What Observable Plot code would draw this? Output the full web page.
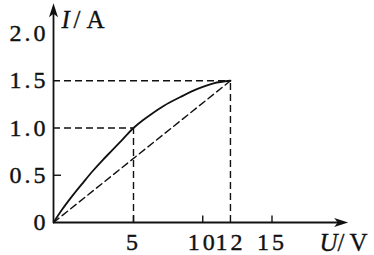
<!DOCTYPE html>
<html><head><meta charset="utf-8">
<script src="https://cdn.jsdelivr.net/npm/d3@7"></script>
<script src="https://cdn.jsdelivr.net/npm/@observablehq/plot@0.6"></script>
<style>
html,body{margin:0;padding:0;background:#fff;}
g[aria-label="y-axis tick label"] text, g[aria-label="x-axis tick label"] text {letter-spacing: 3px; stroke: #111; stroke-width: 0.4px;}
g[aria-label="text"] text {stroke: #111; stroke-width: 0.3px;}
</style>
</head><body><div id="chart"></div>
<script>
// Solid curve (U in V, I in A)
const curveU = [0, 0.56, 1.19, 1.88, 2.44, 3.06, 3.69, 4.31, 5, 5.65, 6.23, 7.17, 8.39, 9.62, 10.78, 12];
const curveI = [0, 0.142, 0.284, 0.428, 0.542, 0.658, 0.768, 0.878, 1.0, 1.079, 1.141, 1.233, 1.328, 1.414, 1.473, 1.5];
// Marked points with dashed guide lines
const markU = [5, 12];
const markI = [1.0, 1.5];
// Ticks
const xTicks = [5, 10, 12, 15];
const yTicks = [0, 0.5, 1.0, 1.5, 2.0];
const yTickLabels = ["0", "0.5", "1.0", "1.5", "2.0"];
const xTickMarks = [5, 10, 15];
const yTickMarks = [0.5];

const curve = curveU.map((u, k) => ({u, i: curveI[k]}));
const marks = markU.map((u, k) => ({u, i: markI[k]}));
const diag = [{u: 0, i: 0}, marks[marks.length - 1]];

const xEnd = 20.5, yEnd = 2.32;
const arrowHead = {draw(ctx) {
  ctx.moveTo(0, 0); ctx.lineTo(-4.5, 14); ctx.lineTo(0, 10.5); ctx.lineTo(4.5, 14); ctx.closePath();
}};
const serif = "'Liberation Serif', 'Times New Roman', serif";
const ink = "#111";
const dash = "7,4";
const titleFont = 25;

const chart = Plot.plot({
  width: 374, height: 255,
  marginLeft: 53, marginBottom: 33, marginTop: 0, marginRight: 0,
  style: {fontFamily: serif, color: ink, background: "#fff"},
  x: {type: "linear", domain: [0, 5, 15], range: [53, 133, 271.5]},
  y: {type: "linear", domain: [0, 2], range: [222, 33]},
  marks: [
    Plot.ruleY(marks, {y: "i", x1: 0, x2: "u", stroke: ink, strokeWidth: 1.4, strokeDasharray: dash}),
    Plot.ruleX(marks, {x: "u", y1: 0, y2: "i", stroke: ink, strokeWidth: 1.4, strokeDasharray: dash}),
    Plot.line(diag, {x: "u", y: "i", stroke: ink, strokeWidth: 1.4, strokeDasharray: dash}),
    Plot.line(curve, {x: "u", y: "i", curve: "monotone-x", stroke: ink, strokeWidth: 1.8}),
    Plot.ruleX(xTickMarks, {x: d => d, y1: 0, y2: 0.07, stroke: ink, strokeWidth: 1.4}),
    Plot.ruleY(yTickMarks, {y: d => d, x1: 0, x2: 0.5, stroke: ink, strokeWidth: 1.4}),
    Plot.ruleX([0], {y1: 0, y2: yEnd - 0.06, stroke: ink, strokeWidth: 1.8}),
    Plot.ruleY([0], {x1: 0, x2: xEnd - 0.5, stroke: ink, strokeWidth: 1.8}),
    Plot.dot([{u: 0, i: yEnd}], {x: "u", y: "i", symbol: arrowHead, fill: ink, stroke: "none", r: 5}),
    Plot.dot([{u: xEnd, i: 0}], {x: "u", y: "i", symbol: arrowHead, rotate: 90, fill: ink, stroke: "none", r: 5}),
    Plot.axisY(yTicks, {tickSize: 0, tickPadding: 5, fontSize: 24, label: null,
      tickFormat: d => yTickLabels[yTicks.indexOf(d)]}),
    Plot.axisX(xTicks, {tickSize: 0, tickPadding: 10, fontSize: 24, label: null}),
    Plot.text(["I"], {text: d => d, frameAnchor: "top-left", dx: 8, dy: 27, textAnchor: "start", lineAnchor: "bottom", fontStyle: "italic", fontSize: titleFont, fill: ink}),
    Plot.text(["/"], {text: d => d, frameAnchor: "top-left", dx: 20, dy: 27, textAnchor: "start", lineAnchor: "bottom", fontSize: titleFont, fill: ink}),
    Plot.text(["A"], {text: d => d, frameAnchor: "top-left", dx: 33, dy: 27, textAnchor: "start", lineAnchor: "bottom", fontSize: titleFont, fill: ink}),
    Plot.text(["U"], {text: d => d, frameAnchor: "top-left", dx: 266, dy: 250, textAnchor: "start", lineAnchor: "bottom", fontStyle: "italic", fontSize: titleFont, fill: ink}),
    Plot.text(["/"], {text: d => d, frameAnchor: "top-left", dx: 284, dy: 250, textAnchor: "start", lineAnchor: "bottom", fontSize: titleFont, fill: ink}),
    Plot.text(["V"], {text: d => d, frameAnchor: "top-left", dx: 296, dy: 250, textAnchor: "start", lineAnchor: "bottom", fontSize: titleFont, fill: ink})
  ]
});
document.getElementById("chart").appendChild(chart);
</script>
</body></html>
